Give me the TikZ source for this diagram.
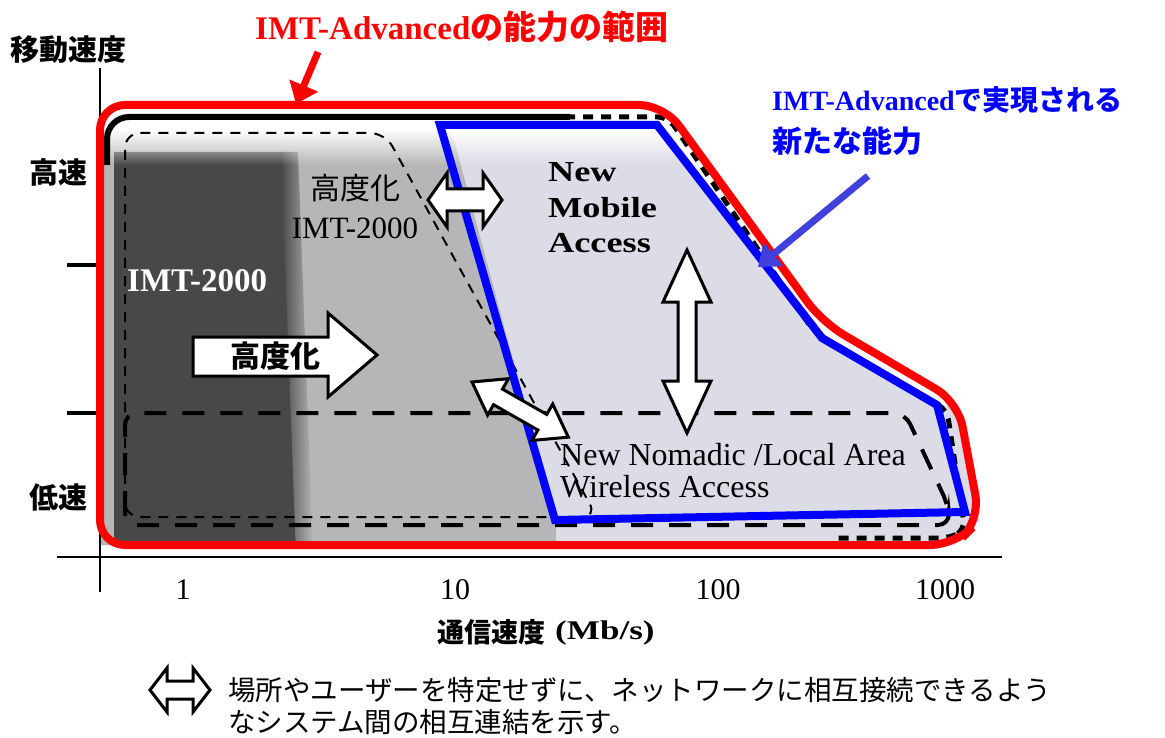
\documentclass[tikz,border=0pt]{standalone}
\usepackage{fontspec}
\setmainfont{Liberation Serif}
\newfontfamily\jp{Noto Sans CJK JP}
\usetikzlibrary{arrows.meta,fadings}
\newcommand\fsz[1]{\fontsize{#1}{#1}\selectfont}
\definecolor{bgl}{RGB}{220,220,230}
\definecolor{midg}{RGB}{182,182,184}
\definecolor{darkg}{RGB}{72,72,72}
\definecolor{redc}{RGB}{255,0,0}
\definecolor{bluec}{RGB}{0,0,255}
\definecolor{arrblue}{RGB}{64,64,220}
% x y angle length shaft-halfwidth head-halfwidth head-length
\newcommand\dblarr[7]{%
\draw[barrow,shift={(#1,#2)},rotate=#3] (0,0) -- (#7,#6) -- (#7,#5) -- ({#4-#7},#5) -- ({#4-#7},#6) -- (#4,0) -- ({#4-#7},-#6) -- ({#4-#7},-#5) -- (#7,-#5) -- (#7,-#6) -- cycle;}
\begin{document}
\begin{tikzpicture}[x=1pt,y=-1pt,
  barrow/.style={draw=black,line width=3pt,fill=white,line join=miter},
  axisline/.style={black,line width=2.5pt},
  tickline/.style={black,line width=3.5pt},
  redline/.style={redc,line width=8pt,rounded corners=25pt},
  blueline/.style={bluec,line width=8pt,line join=miter},
  blacksolid/.style={black,line width=6pt,rounded corners=22pt},
  blackdash/.style={black,line width=5pt,dash pattern=on 10pt off 8pt,rounded corners=10pt},
  thindash/.style={black,line width=2pt,dash pattern=on 10pt off 8pt,rounded corners=15pt},
  thickdash/.style={black,line width=4pt,dash pattern=on 22pt off 16pt,rounded corners=12pt},
  jpb/.style={inner sep=0pt,font=\jp\bfseries},
  lat/.style={inner sep=0pt},
  ptr/.style={line width=7pt,-{Triangle[width=30pt,length=20pt]}}
]
\useasboundingbox (0,0) rectangle (1165,738);
\fill[white] (0,0) rectangle (1165,738);

% ---------- fills ----------
\begin{scope}
\clip (100,545) -- (100,105) -- (664,105) -- (822,322) -- (958,402) -- (980,520) -- (955,545) -- cycle;
\fill[bgl] (90,95) rectangle (1000,555);
\fill[white] (657,95) -- (1000,95) -- (1000,405) -- (937,405) -- (822,338) -- (657,125) -- cycle;
\fill[midg] (90,95) -- (442,95) -- (556,520) -- (556,555) -- (90,555) -- cycle;
\fill[darkg] (114,152) -- (282,152) -- (297,555) -- (114,555) -- cycle;
\shade[left color=darkg,right color=midg] (281,152) -- (298,152) -- (313,555) -- (296,555) -- cycle;
\fill[white] (90,95) rectangle (1000,130);
\fill[white,path fading=south] (90,129) rectangle (1000,165);
\end{scope}

% ---------- axes ----------
\coordinate (yaxT) at (100,68);
\coordinate (yaxB) at (100,592);
\coordinate (xaxL) at (57,557);
\coordinate (xaxR) at (1002,557);
\draw[axisline] (yaxT) -- (yaxB);
\draw[axisline] (xaxL) -- (xaxR);
\coordinate (t1a) at (67,265); \coordinate (t1b) at (100,265);
\coordinate (t2a) at (67,413); \coordinate (t2b) at (100,413);
\draw[tickline] (t1a) -- (t1b);
\draw[tickline] (t2a) -- (t2b);

% ---------- dashed regions ----------
\draw[thindash] (125,517) -- (125,133) -- (385,133) -- (597,517) -- cycle;
\draw[thickdash] (125,525) -- (125,413) -- (905,413) -- (948,505) -- (950,525) -- cycle;

% ---------- outlines ----------
\draw[blackdash] (565,117) -- (668,117) -- (815,333) -- (947,410) -- (965,530) -- (950,538) -- (835,538);
\draw[blacksolid] (107,165) -- (107,117) -- (570,117);
\draw[redline] (100,545) -- (100,105) -- (664,105) -- (822,322) -- (958,402) -- (980,520) -- (955,545) -- cycle;
\draw[blueline] (440,125) -- (657,125) -- (822,338) -- (937,405) -- (965,512) -- (555,520) -- cycle;

% ---------- block arrows ----------
\dblarr{428}{200}{0}{74}{11}{27}{19}
\dblarr{687}{250}{-90}{183}{9}{24}{52}
\dblarr{472}{382}{-29.8}{111}{9}{21}{30}
\draw[barrow] (193,337) -- (328,337) -- (328,313) -- (377,355) -- (328,397) -- (328,376) -- (193,376) -- cycle;
\dblarr{150}{690}{0}{60}{9}{22}{17}

% ---------- pointer arrows ----------
\coordinate (ra1) at (318,52);
\coordinate (ra2) at (296,104);
\draw[ptr,redc] (ra1) -- (ra2);
\coordinate (ba1) at (868,176);
\coordinate (ba2) at (758,267);
\draw[ptr,arrblue] (ba1) -- (ba2);

% ---------- texts ----------
\node[lat,anchor=west,text=redc] (title) at (255,27) {\fsz{33}\bfseries IMT-Advanced{\jp の能力の範囲}};
\node[lat,anchor=west,text=bluec] (bl1) at (772,100) {\fsz{28}\bfseries IMT-Advanced{\jp で実現される}};
\node[jpb,anchor=west,text=bluec] (bl2) at (772,141) {\fsz{30}新たな能力};

\node[jpb] (yl) at (68,50) {\fsz{29}移動速度};
\node[jpb] (hs) at (58,172) {\fsz{29}高速};
\node[jpb] (ls) at (58,497) {\fsz{29}低速};

\node[lat] (n1) at (183,590) {\fsz{30}1};
\node[lat] (n10) at (455,590) {\fsz{30}10};
\node[lat] (n100) at (718,590) {\fsz{30}100};
\node[lat] (n1000) at (945,590) {\fsz{30}1000};
\node[jpb,anchor=west] (xl) at (437,632) {\fsz{27}通信速度};
\node[lat,anchor=west] (xu) at (555,633) {\fsz{27}\bfseries\scalebox{1.3}[1]{(Mb/s)}};

\node[inner sep=0pt,font=\jp] (k1) at (355,188) {\fsz{30}高度化};
\node[lat] (k2) at (355,228) {\fsz{31}IMT-2000};
\node[lat,anchor=west,text=white] (imt) at (127,281) {\fsz{33}\bfseries IMT-2000};
\node[jpb] (k3) at (275,356) {\fsz{30}高度化};

\node[lat,anchor=west] (nm1) at (548,172) {\fsz{29}\bfseries\scalebox{1.25}[1]{New}};
\node[lat,anchor=west] (nm2) at (548,208) {\fsz{29}\bfseries\scalebox{1.25}[1]{Mobile}};
\node[lat,anchor=west] (nm3) at (548,243) {\fsz{29}\bfseries\scalebox{1.25}[1]{Access}};

\node[lat,anchor=west] (nn1) at (560,455) {\fsz{32}New Nomadic /Local Area};
\node[lat,anchor=west] (nn2) at (560,487) {\fsz{32}Wireless Access};

\node[inner sep=0pt,anchor=west,font=\jp] (lg1) at (228,690) {\fsz{27.5}場所やユーザーを特定せずに、ネットワークに相互接続できるよう};
\node[inner sep=0pt,anchor=west,font=\jp] (lg2) at (228,722) {\fsz{27.5}なシステム間の相互連結を示す。};
\end{tikzpicture}
\end{document}
